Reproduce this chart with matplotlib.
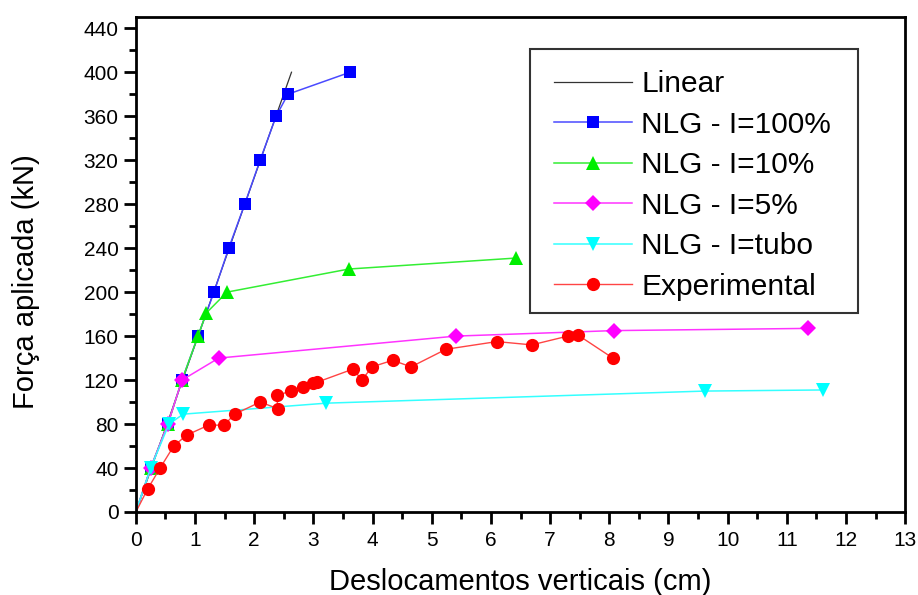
import matplotlib
matplotlib.use("Agg")
import matplotlib.pyplot as plt
from matplotlib.ticker import MultipleLocator
from matplotlib.patches import Rectangle

plt.rcParams['font.family'] = ['Liberation Sans', 'DejaVu Sans']

linear_x = [0.0, 2.63]
linear_y = [0, 400]

i100_x = [0.0, 0.25, 0.54, 0.78, 1.05, 1.32, 1.57, 1.84, 2.10, 2.37, 2.57, 3.62]
i100_y = [0, 40, 80, 120, 160, 200, 240, 280, 320, 360, 380, 400]

i10_x = [0.0, 0.25, 0.54, 0.78, 1.05, 1.19, 1.54, 3.60, 6.43]
i10_y = [0, 40, 80, 120, 160, 181, 200, 221, 231]

i5_x = [0.0, 0.25, 0.54, 0.78, 1.40, 5.41, 8.08, 11.36]
i5_y = [0, 40, 80, 120, 140, 160, 165, 167]

tubo_x = [0.0, 0.25, 0.56, 0.80, 3.22, 9.62, 11.61]
tubo_y = [0, 40, 80, 89, 99, 110, 111]

exp_x = [0.0, 0.20, 0.41, 0.64, 0.86, 1.23, 1.49, 1.67, 2.10, 2.40, 2.38, 2.62, 2.82,
         2.99, 3.06, 3.67, 3.82, 3.99, 4.34, 4.65, 5.24, 6.10, 6.69, 7.30, 7.47, 8.06]
exp_y = [0, 21, 40, 60, 70, 79, 79, 89, 100, 94, 106, 110, 114,
         117, 118, 130, 120, 132, 138, 132, 148, 155, 152, 160, 161, 140]

W, H = 918, 595
fig = plt.figure(figsize=(W / 100, H / 100), dpi=100)
ax = fig.add_axes([0.148, 0.1395, 0.838, 0.8315])

ms = 9
ax.plot(linear_x, linear_y, color='#333333', lw=0.9, label='Linear')
ax.plot(i100_x, i100_y, color='#4a4aff', lw=1.1, marker='s', ms=ms,
        markevery=list(range(1, len(i100_x))),
        mfc='#0000ff', mec='#0000ff', mew=0, label='NLG - I=100%')
ax.plot(i10_x, i10_y, color='#33ee33', lw=1.1, marker='^', ms=ms + 1,
        markevery=list(range(1, len(i10_x))),
        mfc='#00ee00', mec='#00ee00', mew=0, label='NLG - I=10%')
ax.plot(i5_x, i5_y, color='#ff33ff', lw=1.1, marker='D', ms=ms - 1,
        markevery=list(range(1, len(i5_x))),
        mfc='#ff00ff', mec='#ff00ff', mew=0, label='NLG - I=5%')
ax.plot(tubo_x, tubo_y, color='#33ffff', lw=1.1, marker='v', ms=ms + 1,
        markevery=list(range(1, len(tubo_x))),
        mfc='#00ffff', mec='#00ffff', mew=0, label='NLG - I=tubo')
ax.plot(exp_x, exp_y, color='#ff4444', lw=1.0, marker='o', ms=ms + 0.5,
        markevery=list(range(1, len(exp_x))),
        mfc='#ff0000', mec='#ff0000', mew=0, label='Experimental')

ax.set_xlim(0, 13)
ax.set_ylim(0, 450)
ax.xaxis.set_major_locator(MultipleLocator(1))
ax.xaxis.set_minor_locator(MultipleLocator(0.5))
ax.yaxis.set_major_locator(MultipleLocator(40))
ax.yaxis.set_minor_locator(MultipleLocator(20))
ax.tick_params(which='major', direction='out', length=8.5, width=2, labelsize=15)
ax.tick_params(axis='x', which='major', pad=5)
ax.tick_params(axis='y', which='major', pad=4)
ax.tick_params(which='minor', direction='out', length=5, width=2)
for s in ax.spines.values():
    s.set_linewidth(2)

ax.set_xlabel('Deslocamentos verticais (cm)', fontsize=21)
ax.set_ylabel('Força aplicada (kN)', fontsize=21)
ax.xaxis.set_label_coords(0.5, -0.114)
ax.yaxis.set_label_coords(-0.125, 0.465)

# legend frame (drawn separately so its size matches the reference)
frame = Rectangle((530 / W, 1 - 313 / H), (858 - 530) / W, (313 - 49) / H,
                  transform=fig.transFigure, facecolor='white',
                  edgecolor='#333333', lw=1.5, zorder=5)
ax.add_patch(frame)
frame.set_clip_on(False)

leg = ax.legend(loc='upper left', bbox_to_anchor=(554 / W, 1 - 70 / H),
                bbox_transform=fig.transFigure, fontsize=21.5,
                frameon=False, handlelength=2.6, labelspacing=0.42,
                borderpad=0, handletextpad=0.33, borderaxespad=0)
leg.set_zorder(6)

fig.savefig('out.png', dpi=100)
